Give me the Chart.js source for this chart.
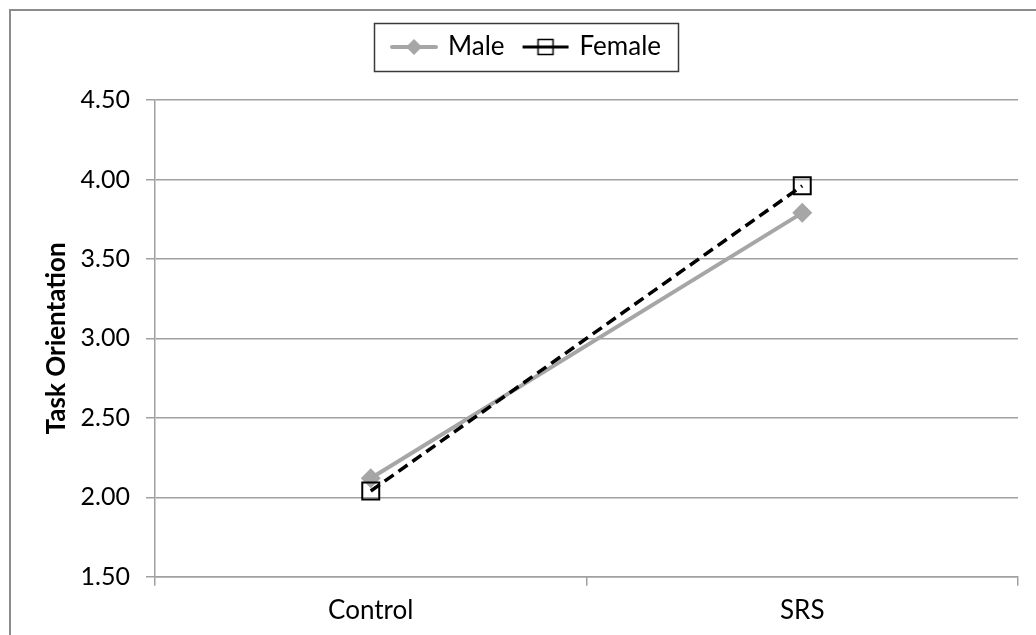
<!DOCTYPE html>
<html>
<head>
<meta charset="utf-8">
<script src="https://cdn.jsdelivr.net/npm/chart.js@4.4.1/dist/chart.umd.min.js"></script>
<style>
  html, body { margin: 0; padding: 0; background: #fff; overflow: hidden; }
  #wrap { position: relative; width: 1036px; height: 635px; }
  #frame { position: absolute; left: 9px; top: 9px; width: 1100px; height: 700px;
           border: 2px solid #8c8c8c; pointer-events: none; }
  canvas { position: absolute; left: 0; top: 0; }
</style>
</head>
<body>
<div id="wrap">
  <canvas id="chart" width="1036" height="635"></canvas>
  <div id="frame"></div>
</div>
<script>
const groups = ["Control", "SRS"];
const maleValues = [2.12, 3.79];
const femaleValues = [2.04, 3.96];
const yTicks = [1.5, 2.0, 2.5, 3.0, 3.5, 4.0, 4.5];

const FONT = "Lato, 'Open Sans', sans-serif";
const MALE_COLOR = "#a6a6a6";
const GRID_COLOR = "#a0a0a0";
const TOP_PAD = 14;
const PLOT_TOP = 100;

// little swatches for the legend: line with the marker on it, like Excel
function legendSwatch(kind) {
    const c = document.createElement("canvas");
    c.width = 48;
    c.height = 20;
    const ctx = c.getContext("2d");
    if (kind === "male") {
        ctx.strokeStyle = MALE_COLOR;
        ctx.lineWidth = 4;
        ctx.lineCap = "round";
        ctx.beginPath(); ctx.moveTo(2, 10); ctx.lineTo(46, 10); ctx.stroke();
        ctx.fillStyle = MALE_COLOR;
        ctx.beginPath();
        ctx.moveTo(24, 2); ctx.lineTo(32, 10); ctx.lineTo(24, 18); ctx.lineTo(16, 10);
        ctx.closePath(); ctx.fill();
    } else {
        ctx.strokeStyle = "#000";
        ctx.lineWidth = 3;
        ctx.beginPath(); ctx.moveTo(1, 10); ctx.lineTo(47, 10); ctx.stroke();
        ctx.lineWidth = 1.5;
        ctx.strokeRect(16.5, 2.5, 15, 15);
    }
    return c;
}
const swatches = [legendSwatch("male"), legendSwatch("female")];

// keep the legend tall enough that the plot starts where Excel put it,
// and draw the frame around the legend items
const legendFrame = {
    id: "legendFrame",
    beforeLayout(chart) {
        const lg = chart.legend;
        if (lg && !lg._fixedFit) {
            const fit = lg.fit;
            lg.fit = function () {
                fit.call(this);
                this.height = PLOT_TOP - TOP_PAD;
            };
            lg._fixedFit = true;
        }
    },
    afterDraw(chart) {
        const boxes = chart.legend && chart.legend.legendHitBoxes;
        if (!boxes || !boxes.length) return;
        const left = Math.min(...boxes.map(b => b.left));
        const right = Math.max(...boxes.map(b => b.left + b.width));
        const top = Math.min(...boxes.map(b => b.top));
        const bottom = Math.max(...boxes.map(b => b.top + b.height));
        const cy = (top + bottom) / 2;
        const ctx = chart.ctx;
        ctx.save();
        ctx.strokeStyle = "#3a3a3a";
        ctx.lineWidth = 1.5;
        ctx.strokeRect(Math.round(left - 19) + 0.5, Math.round(cy - 24) + 0.5,
                       Math.round(right - left + 36), 48);
        ctx.restore();
    }
};

const ctx = document.getElementById("chart").getContext("2d");
const chart = new Chart(ctx, {
    type: "line",
    data: {
        labels: groups,
        datasets: [
            {
                label: "Male",
                data: maleValues,
                borderColor: MALE_COLOR,
                backgroundColor: MALE_COLOR,
                borderWidth: 4,
                pointStyle: "rectRot",
                pointRadius: 10,
                pointHoverRadius: 10,
                pointBorderWidth: 0,
                order: 1,
            },
            {
                label: "Female",
                data: femaleValues,
                borderColor: "#000",
                backgroundColor: "rgba(0,0,0,0)",
                borderWidth: 3.5,
                borderDash: [11, 6],
                pointStyle: "rect",
                pointRadius: 12,
                pointHoverRadius: 12,
                pointBorderWidth: 2,
                pointBorderColor: "#000",
                pointBackgroundColor: "rgba(0,0,0,0)",
                order: 0,
            },
        ],
    },
    options: {
        responsive: false,
        devicePixelRatio: 1,
        animation: false,
        layout: { padding: { left: 36, right: 18, top: TOP_PAD, bottom: 0 } },
        plugins: {
            tooltip: { enabled: false },
            legend: {
                position: "top",
                labels: {
                    usePointStyle: true,
                    pointStyleWidth: 42,
                    padding: 20,
                    color: "#000",
                    font: { family: FONT, size: 26 },
                    generateLabels(chart) {
                        return chart.data.datasets.map((ds, i) => ({
                            text: ds.label,
                            pointStyle: swatches[i],
                            fillStyle: "transparent",
                            strokeStyle: "transparent",
                            lineWidth: 0,
                            fontColor: "#000",
                            datasetIndex: i,
                            hidden: false,
                        }));
                    },
                },
            },
        },
        scales: {
            x: {
                offset: true,
                grid: {
                    offset: true,
                    drawOnChartArea: false,
                    drawTicks: true,
                    tickLength: 9,
                    color: GRID_COLOR,
                    lineWidth: 1.5,
                },
                border: { color: GRID_COLOR, width: 1.5 },
                ticks: {
                    color: "#000",
                    padding: 9,
                    font: { family: FONT, size: 26 },
                },
            },
            y: {
                min: 1.5,
                max: 4.5,
                afterBuildTicks(scale) {
                    scale.ticks = yTicks.map(v => ({ value: v }));
                },
                afterFit(scale) {
                    scale.width = 119;
                },
                grid: {
                    color: GRID_COLOR,
                    lineWidth: 1.5,
                    tickLength: 9,
                },
                border: { color: GRID_COLOR, width: 1.5 },
                ticks: {
                    color: "#000",
                    padding: 16,
                    font: { family: FONT, size: 25 },
                    callback: v => Number(v).toFixed(2),
                },
                title: {
                    display: true,
                    text: "Task Orientation",
                    color: "#000",
                    font: { family: FONT, size: 26, weight: "bold" },
                    padding: { top: 5, bottom: 0 },
                },
            },
        },
    },
    plugins: [legendFrame],
});
</script>
</body>
</html>
